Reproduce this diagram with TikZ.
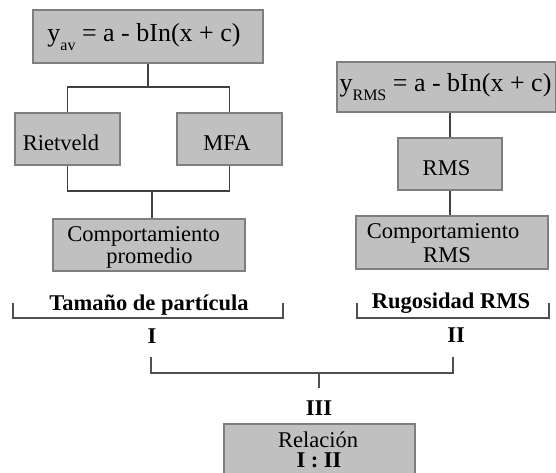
\documentclass[tikz,border=0pt]{standalone}
\usepackage{fontspec}
\setmainfont{Liberation Serif}
\usetikzlibrary{calc}
\definecolor{boxfill}{HTML}{C0C0C0}
\definecolor{boxline}{HTML}{7F7F7F}
\definecolor{connline}{HTML}{404040}
\definecolor{brkline}{HTML}{505050}
\tikzset{
  gbox/.style={draw=boxline, fill=boxfill, line width=1.6pt, inner sep=0pt},
  conn/.style={draw=connline, line width=1.6pt},
  brk/.style={draw=brkline, line width=1.6pt},
  txt/.style={inner sep=0pt, anchor=base, font=\fontsize{22.5}{24}\selectfont},
  btxt/.style={inner sep=0pt, anchor=base, font=\fontsize{22.5}{24}\selectfont\bfseries},
  eqtxt/.style={inner sep=0pt, anchor=base, font=\fontsize{26}{28}\selectfont},
}
\newcommand{\mysub}[1]{\raisebox{-9.5pt}{\fontsize{16}{16}\selectfont #1}}
\begin{document}
\begin{tikzpicture}[x=1pt,y=-1pt]
\useasboundingbox (0,0) rectangle (556,472);
% boxes
\node[gbox, minimum width=230pt, minimum height=53pt] (eq1) at (148,36.5) {};
\node[gbox, minimum width=105pt, minimum height=52pt] (riet) at (67.5,139) {};
\node[gbox, minimum width=105pt, minimum height=52pt] (mfa) at (229.5,139) {};
\node[gbox, minimum width=192pt, minimum height=52pt] (comp1) at (149,245) {};
\node[gbox, minimum width=219pt, minimum height=50pt] (eq2) at (446.5,87) {};
\node[gbox, minimum width=104pt, minimum height=52pt] (rms) at (450,164) {};
\node[gbox, minimum width=192pt, minimum height=53pt] (comp2) at (452,242.5) {};
\node[gbox, minimum width=191pt, minimum height=51pt] (rel) at (319.5,449.5) {};
% box texts
\node[eqtxt] (eq1t) at (144,41) {y\mysub{av} = a - bIn(x + c)};
\node[eqtxt] (eq2t) at (445.5,91) {y\mysub{RMS} = a - bIn(x + c)};
\node[txt] (riett) at (61,150) {Rietveld};
\node[txt] (mfat) at (227,150) {MFA};
\node[txt] (rmst) at (446.5,175) {RMS};
\node[txt] (comp1a) at (143.5,241) {Comportamiento};
\node[txt] (comp1b) at (149.5,263.5) {promedio};
\node[txt] (comp2a) at (443,238) {Comportamiento};
\node[txt] (comp2b) at (447,262.5) {RMS};
\node[txt] (relt) at (318,447) {Relación};
\node[btxt] (relb) at (319,467.5) {I : II};
% connectors
\coordinate (j1) at (148,87);
\coordinate (j2) at (152,191);
\draw[conn] (eq1.south) -- (j1);
\draw[conn] (riet.north) |- (j1) -| (mfa.north);
\draw[conn] (riet.south) |- (j2) -| (mfa.south);
\draw[conn] (j2) -- (j2 |- comp1.north);
\draw[conn] (rms.north) -- (rms.north |- eq2.south);
\draw[conn] (rms.south) -- (rms.south |- comp2.north);
% brackets and labels
\node[btxt] (tam) at (149,310) {Tamaño de partícula};
\node[btxt] (rug) at (451,308) {Rugosidad RMS};
\coordinate (b1l) at (13,303);
\coordinate (b1r) at (283,303);
\coordinate (b2l) at (357,303);
\coordinate (b2r) at (549,303);
\draw[brk] (b1l) -- ++(0,15) -| (b1r);
\draw[brk] (b2l) -- ++(0,15) -| (b2r);
\node[btxt] (one) at (152,343) {I};
\node[btxt] (two) at (456,342) {II};
\coordinate (b3l) at (151,357);
\coordinate (b3r) at (453,357);
\coordinate (b3m) at (319,373);
\coordinate (b3t) at (319,388);
\draw[brk] (b3l) -- ++(0,16) -| (b3r);
\draw[brk] (b3m) -- (b3t);
\node[btxt] (three) at (319,415) {III};
\end{tikzpicture}
\end{document}
